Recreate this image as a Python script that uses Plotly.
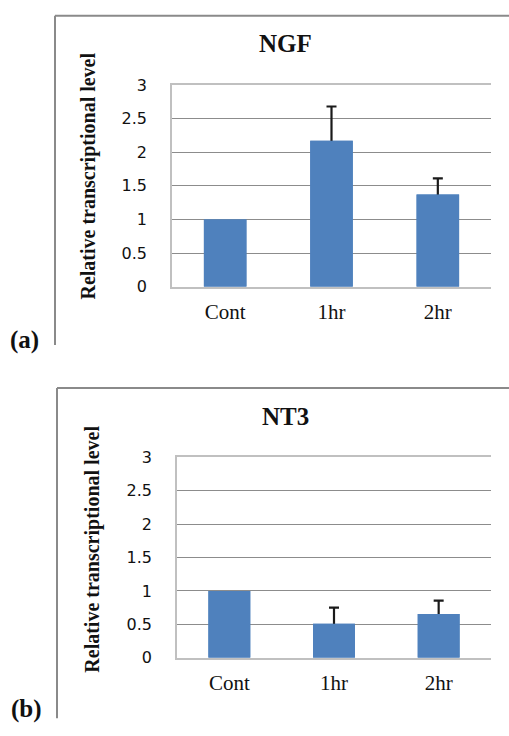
import numpy as np
import plotly.graph_objects as go

categories = ["Cont", "1hr", "2hr"]
ngf_values = [1.0, 2.17, 1.37]
ngf_errors = [0.0, 0.51, 0.24]
nt3_values = [1.0, 0.51, 0.655]
nt3_errors = [0.0, 0.24, 0.20]
y_ticks = [0, 0.5, 1, 1.5, 2, 2.5, 3]
y_ticklabels = ["0", "0.5", "1", "1.5", "2", "2.5", "3"]

W, H = 509, 736
BAR = "#4f81bd"
SERIF = "Liberation Serif, Times New Roman, serif"
SANS = "DejaVu Sans, Verdana, sans-serif"

def px(x):
    return x / W

def py(y):
    return 1 - y / H

fig = go.Figure()
for vals, errs, xa, ya in [(ngf_values, ngf_errors, "x", "y"), (nt3_values, nt3_errors, "x2", "y2")]:
    err_arr = np.array([e if e > 0 else np.nan for e in errs], dtype=float)
    # bars carrying the (symmetric) error bars
    fig.add_trace(go.Bar(x=categories, y=vals, width=0.4, marker=dict(color=BAR, line=dict(width=0)),
                         error_y=dict(type="data", array=err_arr, symmetric=True,
                                      color="#1a1a1a", thickness=2.2, width=5),
                         xaxis=xa, yaxis=ya, showlegend=False, hoverinfo="skip"))
    # identical bars on top, hiding the lower half of the error bars
    fig.add_trace(go.Bar(x=categories, y=vals, width=0.4, marker=dict(color=BAR, line=dict(width=0)),
                         xaxis=xa, yaxis=ya, showlegend=False))

yax = dict(range=[0, 3], tickvals=y_ticks, ticktext=y_ticklabels, showgrid=True, gridcolor="#8c8c8c",
           gridwidth=1, showline=True, linecolor="#c0c0c0", linewidth=1.5, ticks="", zeroline=False,
           tickfont=dict(family=SANS, size=16, color="#111"), ticklabelstandoff=20, fixedrange=True)
xax = dict(showline=True, mirror=True, linecolor="#c0c0c0", linewidth=1.5, ticks="", showgrid=False,
           tickfont=dict(family=SERIF, size=21, color="#111"), ticklabelstandoff=5, fixedrange=True)

fig.update_layout(
    width=W, height=H, margin=dict(l=0, r=0, t=0, b=0),
    paper_bgcolor="white", plot_bgcolor="white", barmode="overlay",
    xaxis=dict(domain=[px(172), px(491)], anchor="y", **xax),
    yaxis=dict(domain=[py(285), py(78)], anchor="x", **yax),
    xaxis2=dict(domain=[px(177), px(491)], anchor="y2", **xax),
    yaxis2=dict(domain=[py(666), py(460)], anchor="x2", **yax),
)

shapes = []
for (xl, yt, yb) in [(55, 7, 345), (57, 389, 728)]:
    shapes.append(dict(type="line", xref="paper", yref="paper", x0=px(xl), x1=px(xl), y0=py(yt), y1=py(yb),
                       line=dict(color="#8a8a8a", width=2)))
    shapes.append(dict(type="line", xref="paper", yref="paper", x0=px(xl), x1=1.0, y0=py(yt), y1=py(yt),
                       line=dict(color="#8a8a8a", width=2)))
fig.update_layout(shapes=shapes)

ann = []
def text(x, y, s, size, family=SERIF, bold=True, angle=0):
    ann.append(dict(xref="paper", yref="paper", x=px(x), y=py(y), text=("<b>%s</b>" % s) if bold else s,
                    showarrow=False, xanchor="center", yanchor="middle", textangle=angle,
                    font=dict(family=family, size=size, color="#111")))

text(285, 35, "NGF", 25)
text(285, 418, "NT3", 25)
text(89, 172, "Relative transcriptional level", 20, angle=-90)
text(93, 555, "Relative transcriptional level", 20, angle=-90)
text(24, 340, "(a)", 25)
text(26, 719, "(b)", 25)
fig.update_layout(annotations=ann)

fig.write_html("out.html", config={"displayModeBar": False},
               post_script="document.body.style.margin='0';document.body.style.overflow='hidden';")
